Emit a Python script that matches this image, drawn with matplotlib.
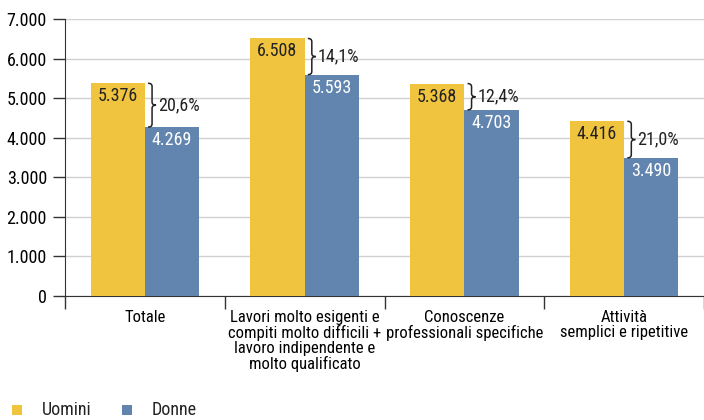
import matplotlib
matplotlib.use("Agg")
import matplotlib.pyplot as plt
from matplotlib.path import Path
from matplotlib.patches import PathPatch, Rectangle
from matplotlib import font_manager as fm
import numpy as np

categories = ["Totale",
              "Lavori molto esigenti e\ncompiti molto difficili +\nlavoro indipendente e\nmolto qualificato",
              "Conoscenze\nprofessionali specifiche",
              "Attività\nsemplici e ripetitive"]
uomini = [5376, 6508, 5368, 4416]
donne = [4269, 5593, 4703, 3490]
uomini_labels = ["5.376", "6.508", "5.368", "4.416"]
donne_labels = ["4.269", "5.593", "4.703", "3.490"]
gap_labels = ["20,6%", "14,1%", "12,4%", "21,0%"]
yticks = [0, 1000, 2000, 3000, 4000, 5000, 6000, 7000]
ytick_labels = ["0", "1.000", "2.000", "3.000", "4.000", "5.000", "6.000", "7.000"]
series_names = ["Uomini", "Donne"]

YELLOW = "#F0C43F"
BLUE = "#6285B0"

names = {f.name for f in fm.fontManager.ttflist}
fam = []
for n in ["Roboto Condensed", "Archivo Narrow", "PT Sans Narrow", "Fira Sans Condensed",
          "Sofia Sans Condensed", "Liberation Sans Narrow"]:
    if n in names:
        fam.append(n)
        break
fam.append("DejaVu Sans")
plt.rcParams["font.family"] = fam
plt.rcParams["text.color"] = "#222222"

fig = plt.figure(figsize=(7.04, 4.2), dpi=100)
ax = fig.add_axes([65/704, 124/420, 639/704, 277/420])

x = np.arange(len(categories)) + 0.5
w = 0.34
ax.bar(x - w/2, uomini, width=w, color=YELLOW, zorder=3)
ax.bar(x + w/2, donne, width=w, color=BLUE, zorder=3)

for i in range(len(categories)):
    ax.text(x[i] - w/2, uomini[i] - 100, uomini_labels[i], ha="center", va="top",
            fontsize=13, color="#222222", zorder=4)
    ax.text(x[i] + w/2, donne[i] - 100, donne_labels[i], ha="center", va="top",
            fontsize=13, color="white", zorder=4)
    # curly brace
    y0, y1 = donne[i], uomini[i]
    xm = x[i] + 0.02
    bw = 0.05
    ym = (y0 + y1) / 2
    verts = [(xm, y1), (xm + bw*0.5, y1), (xm + bw*0.5, y1 - 80),
             (xm + bw*0.5, ym + 80),
             (xm + bw*0.5, ym), (xm + bw, ym),
             (xm + bw*0.5, ym), (xm + bw*0.5, ym - 80),
             (xm + bw*0.5, y0 + 80),
             (xm + bw*0.5, y0), (xm, y0)]
    codes = [Path.MOVETO, Path.CURVE3, Path.CURVE3,
             Path.LINETO,
             Path.CURVE3, Path.CURVE3,
             Path.CURVE3, Path.CURVE3,
             Path.LINETO,
             Path.CURVE3, Path.CURVE3]
    ax.add_patch(PathPatch(Path(verts, codes), facecolor="none", edgecolor="#222222",
                           lw=1.1, zorder=5))
    ax.text(xm + bw + 0.012, ym, gap_labels[i], ha="left", va="center",
            fontsize=13, color="#222222", zorder=5)

ax.set_xlim(0, len(categories))
ax.set_ylim(0, 7000)
ax.set_yticks(yticks)
ax.set_yticklabels(ytick_labels, fontsize=13)
ax.yaxis.grid(True, color="#D0D0D0", lw=1.0, zorder=0)
ax.set_axisbelow(True)

ax.set_xticks(np.arange(len(categories) + 1))
ax.set_xticklabels([])
ax.set_xticks(x, minor=True)
ax.set_xticklabels(categories, minor=True, fontsize=12, linespacing=1.0)
ax.tick_params(axis="x", which="minor", length=0, pad=10)
ax.tick_params(axis="x", which="major", length=9, width=1, color="#333333", direction="out")
ax.tick_params(axis="y", length=9, width=1, color="#333333", pad=4)

for s in ["top", "right"]:
    ax.spines[s].set_visible(False)
ax.spines["left"].set_color("#333333")
ax.spines["bottom"].set_color("#333333")

# legend
fig.patches.append(Rectangle((12/704, (420-415)/420), 10/704, 10/420, transform=fig.transFigure,
                             facecolor=YELLOW, edgecolor="none"))
fig.text(42/704, (420-410)/420, series_names[0], fontsize=13, va="center", ha="left")
fig.patches.append(Rectangle((122/704, (420-415)/420), 10/704, 10/420, transform=fig.transFigure,
                             facecolor=BLUE, edgecolor="none"))
fig.text(152/704, (420-410)/420, series_names[1], fontsize=13, va="center", ha="left")

fig.savefig("out.png", dpi=100)
